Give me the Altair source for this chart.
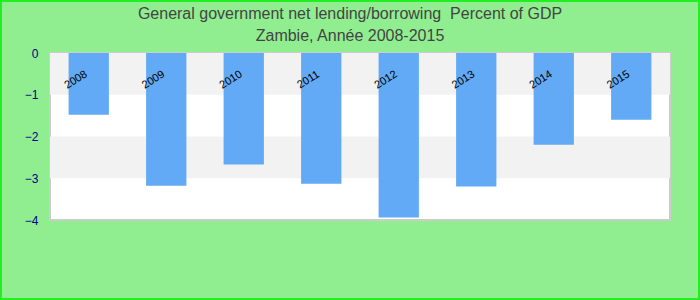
import altair as alt
import pandas as pd

years = ["2008", "2009", "2010", "2011", "2012", "2013", "2014", "2015"]
values = [-1.48, -3.18, -2.67, -3.13, -3.94, -3.20, -2.20, -1.60]
band_top = [0, -2]
band_bottom = [-1, -3]
title_line1 = "General government net lending/borrowing\u00a0 Percent of GDP"
title_line2 = "Zambie, Année 2008-2015"
y_ticks = [0, -1, -2, -3, -4]

W, H = 620, 167
FONT = "Liberation Sans"

df = pd.DataFrame({"year": years, "value": values})
bands = pd.DataFrame({"y": band_top, "y2": band_bottom})
one = pd.DataFrame({"a": [0]})

xscale = alt.Scale(domain=years, paddingInner=0.48, paddingOuter=0.24)
yscale = alt.Scale(domain=[-4, 0], nice=False, zero=False)
yaxis = alt.Axis(orient="left", values=y_ticks, title=None, grid=False,
                 domain=False, ticks=False, labelColor="#00008B",
                 labelFontSize=12, labelFont=FONT, labelPadding=12,
                 format="d", zindex=2)

frame = alt.Chart(one).mark_rect(
    fillOpacity=0, stroke="#22EE22", strokeWidth=2, clip=False
).encode(
    x=alt.value(-49), x2=alt.value(649), y=alt.value(-52), y2=alt.value(246)
)

plotbg = alt.Chart(one).mark_rect(
    fill="white", stroke="#cccccc", strokeWidth=2
).encode(x=alt.value(0), x2=alt.value(W), y=alt.value(0), y2=alt.value(H))

bg = alt.Chart(bands).mark_rect(color="#f2f2f2").encode(
    x=alt.value(0), x2=alt.value(W),
    y=alt.Y("y:Q", scale=yscale, axis=yaxis),
    y2="y2:Q",
)

bars = alt.Chart(df).mark_bar(color="#62AAF5").encode(
    x=alt.X("year:N", scale=xscale, axis=None),
    y=alt.Y("value:Q", scale=yscale, axis=yaxis),
    y2=alt.datum(0),
)

labels = alt.Chart(df).mark_text(
    angle=328, fontSize=11, font=FONT, color="black", dx=-15
).encode(
    x=alt.X("year:N", scale=xscale, axis=None),
    y=alt.value(19),
    text="year:N",
)

t1 = alt.Chart(one).mark_text(
    fontSize=16, font=FONT, color="#444444", clip=False, text=title_line1
).encode(x=alt.value(300), y=alt.value(-39))
t2 = alt.Chart(one).mark_text(
    fontSize=16, font=FONT, color="#444444", clip=False, text=title_line2
).encode(x=alt.value(300), y=alt.value(-17))

chart = alt.layer(frame, plotbg, bg, bars, labels, t1, t2).properties(
    width=W, height=H,
    autosize=alt.AutoSizeParams(type="none"),
    padding={"left": 50, "top": 53, "right": 30, "bottom": 80},
    background="#90EE90",
).configure_view(stroke=None)

chart.save("out.html", embed_options={"renderer": "svg", "actions": False})
